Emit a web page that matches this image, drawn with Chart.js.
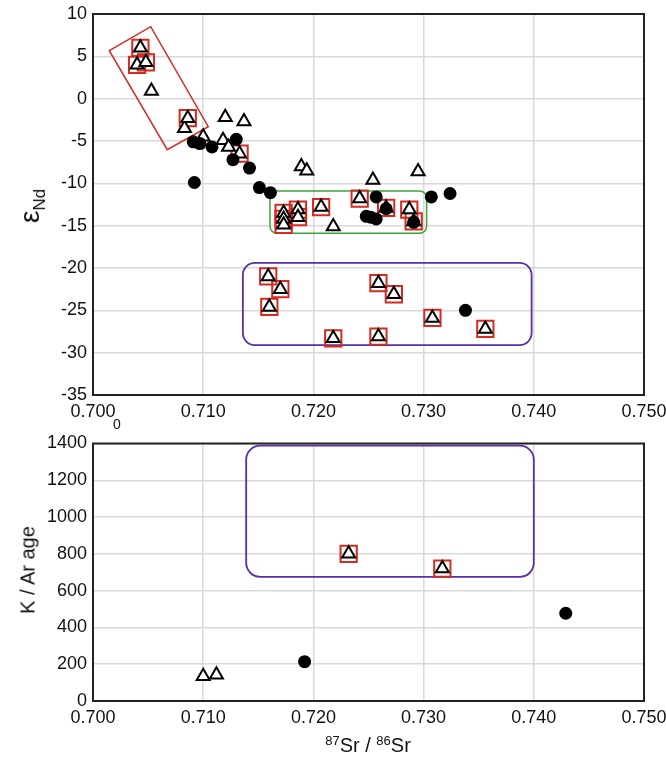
<!DOCTYPE html>
<html>
<head>
<meta charset="utf-8">
<script src="https://cdn.jsdelivr.net/npm/chart.js@4/dist/chart.umd.min.js"></script>
<style>
  html, body { margin: 0; padding: 0; background: #fff; }
  body { width: 666px; height: 759px; position: relative; overflow: hidden; font-family: "Liberation Sans", Arial, sans-serif; color: #111; }
  canvas { position: absolute; left: 0; }
  #c1 { top: 0; }
  #c2 { top: 430px; }
  .lbl { position: absolute; white-space: nowrap; color: #111; }
  .rot { transform: translate(-50%, -50%) rotate(-90deg); }
  sup { font-size: 13px; vertical-align: 7px; line-height: 0; }
</style>
</head>
<body>
<canvas id="c1" width="666" height="430"></canvas>
<canvas id="c2" width="666" height="329"></canvas>
<div class="lbl rot" style="left:30px; top:206px; font-size:28px;">ε<span style="font-size:17px; position:relative; top:6px;">Nd</span></div>
<div class="lbl rot" style="left:28px; top:570px; font-size:20px;">K / Ar age</div>
<div class="lbl" style="left:368px; top:745px; transform:translate(-50%,-50%); font-size:20px;"><sup>87</sup>Sr / <sup>86</sup>Sr</div>
<div class="lbl" style="left:117px; top:424px; transform:translate(-50%,-50%); font-size:14px;">0</div>
<script>
// ---------- data ----------
const xTicks = [0.700, 0.710, 0.720, 0.730, 0.740, 0.750];
const ndTicks = [10, 5, 0, -5, -10, -15, -20, -25, -30, -35];
const ageTicks = [0, 200, 400, 600, 800, 1000, 1200, 1400];

// top panel: 87Sr/86Sr vs eNd
const ndCircles = [
  [0.7091,-5.1],[0.7097,-5.3],[0.7108,-5.7],[0.7130,-4.8],[0.7127,-7.2],[0.7142,-8.2],
  [0.7092,-9.9],[0.7151,-10.5],[0.7161,-11.1],[0.7257,-11.6],[0.7307,-11.6],[0.7324,-11.2],
  [0.7248,-13.9],[0.7252,-14.0],[0.7257,-14.2],[0.7266,-13.0],[0.7291,-14.6],[0.7338,-25.0]
];
const ndTriangles = [
  [0.7053,0.9],[0.7083,-3.5],[0.7120,-2.2],[0.7137,-2.7],[0.7100,-4.5],[0.7118,-4.9],
  [0.7123,-5.7],[0.7189,-8.0],[0.7194,-8.5],[0.7254,-9.6],[0.7295,-8.6],[0.7218,-15.1]
];
const ndBoxed = [
  [0.7043,6.0],[0.7040,4.0],[0.7048,4.3],[0.7086,-2.3],[0.7133,-6.5],
  [0.7173,-13.5],[0.7173,-14.2],[0.7173,-14.9],[0.7186,-13.1],[0.7186,-14.0],[0.7207,-12.8],
  [0.7242,-11.8],[0.7266,-12.9],[0.7287,-13.1],[0.7291,-14.5],
  [0.7159,-21.0],[0.7170,-22.5],[0.7160,-24.6],[0.7218,-28.3],[0.7259,-21.8],[0.7273,-23.1],
  [0.7259,-28.1],[0.7308,-25.9],[0.7356,-27.2]
];
// bottom panel: 87Sr/86Sr vs K/Ar age
const ageCircles = [[0.7192,214],[0.7429,477]];
const ageTriangles = [[0.7100,134],[0.7112,143]];
const ageBoxed = [[0.7232,800],[0.7317,720]];

// outlined groups (data coordinates)
const redGroup = [[0.70148,5.67],[0.70524,8.50],[0.71046,-3.31],[0.70674,-6.02]];
const greenGroup = [0.71606,-10.91,0.73027,-15.90];
const purpleGroupTop = [0.7136,-19.4,0.7398,-29.1];
const purpleGroupBottom = [0.7139,1388,0.7400,675];

// ---------- drawing ----------
const pts = a => a.map(p => ({x: p[0], y: p[1]}));

function roundRect(ctx, x, y, w, h, r) {
  ctx.beginPath();
  ctx.moveTo(x + r, y);
  ctx.lineTo(x + w - r, y); ctx.arcTo(x + w, y, x + w, y + r, r);
  ctx.lineTo(x + w, y + h - r); ctx.arcTo(x + w, y + h, x + w - r, y + h, r);
  ctx.lineTo(x + r, y + h); ctx.arcTo(x, y + h, x, y + h - r, r);
  ctx.lineTo(x, y + r); ctx.arcTo(x, y, x + r, y, r);
  ctx.closePath();
}

function groupsPlugin(groups) {
  return {
    id: 'groups',
    beforeDatasetsDraw(chart) {
      const {ctx, scales: {x, y}} = chart;
      ctx.save();
      groups.forEach(g => {
        ctx.strokeStyle = g.color; ctx.lineWidth = g.width;
        if (g.poly) {
          ctx.beginPath();
          g.poly.forEach((p, i) => {
            const px = x.getPixelForValue(p[0]), py = y.getPixelForValue(p[1]);
            if (i === 0) ctx.moveTo(px, py); else ctx.lineTo(px, py);
          });
          ctx.closePath(); ctx.stroke();
        } else {
          const x1 = x.getPixelForValue(g.rect[0]), y1 = y.getPixelForValue(g.rect[1]);
          const x2 = x.getPixelForValue(g.rect[2]), y2 = y.getPixelForValue(g.rect[3]);
          roundRect(ctx, Math.min(x1,x2), Math.min(y1,y2), Math.abs(x2-x1), Math.abs(y2-y1), g.radius);
          ctx.stroke();
        }
      });
      ctx.restore();
    },
    afterDraw(chart) {
      const {ctx, chartArea: a} = chart;
      ctx.save();
      ctx.strokeStyle = '#222'; ctx.lineWidth = 2;
      ctx.strokeRect(a.left, a.top, a.right - a.left, a.bottom - a.top);
      ctx.restore();
    }
  };
}

function makeDatasets(circles, triangles, boxed) {
  return [
    {data: pts(circles), pointStyle: 'circle', pointRadius: 6.5, backgroundColor: '#000', borderColor: '#000', borderWidth: 0},
    {data: pts(triangles.concat(boxed)), pointStyle: 'triangle', pointRadius: 7.5, backgroundColor: '#fff', borderColor: '#000', borderWidth: 2},
    {data: pts(boxed), pointStyle: 'rect', pointRadius: 11.5, backgroundColor: 'rgba(0,0,0,0)', borderColor: '#d42a20', borderWidth: 2}
  ];
}

const tickFont = {family: '"Liberation Sans", Arial, sans-serif', size: 18};
function noPad(s) { s.paddingLeft = 0; s.paddingRight = 0; s.paddingTop = 0; s.paddingBottom = 0; }
function xScale(height) {
  return {
    type: 'linear', min: 0.7, max: 0.75,
    afterBuildTicks: s => { s.ticks = xTicks.map(v => ({value: v})); },
    ticks: {callback: v => Number(v).toFixed(3), font: tickFont, color: '#111', padding: 6, maxRotation: 0, autoSkip: false},
    grid: {color: '#d9d9d9', lineWidth: 1.5, drawTicks: false},
    border: {display: false},
    afterFit: s => { s.height = height; noPad(s); }
  };
}
function yScale(min, max, ticks) {
  return {
    type: 'linear', min: min, max: max,
    afterBuildTicks: s => { s.ticks = ticks.map(v => ({value: v})); },
    ticks: {callback: v => String(v), font: tickFont, color: '#111', padding: 6, autoSkip: false},
    grid: {color: '#d9d9d9', lineWidth: 1.5, drawTicks: false},
    border: {display: false},
    afterFit: s => { s.width = 93; noPad(s); }
  };
}
const baseOptions = {
  responsive: false, animation: false, devicePixelRatio: 1,
  plugins: {legend: {display: false}, tooltip: {enabled: false}}
};

new Chart(document.getElementById('c1'), {
  type: 'scatter',
  data: {datasets: makeDatasets(ndCircles, ndTriangles, ndBoxed)},
  options: Object.assign({}, baseOptions, {
    layout: {padding: {top: 14, right: 22, left: 0, bottom: 0}},
    scales: {x: xScale(35), y: yScale(-35, 10, ndTicks)}
  }),
  plugins: [groupsPlugin([
    {poly: redGroup, color: '#d42a20', width: 1.5},
    {rect: greenGroup, color: '#3aa43a', width: 1.5, radius: 7},
    {rect: purpleGroupTop, color: '#5a2ea6', width: 1.8, radius: 12}
  ])]
});

new Chart(document.getElementById('c2'), {
  type: 'scatter',
  data: {datasets: makeDatasets(ageCircles, ageTriangles, ageBoxed)},
  options: Object.assign({}, baseOptions, {
    layout: {padding: {top: 10, right: 22, left: 0, bottom: 0}},
    scales: {x: xScale(58), y: yScale(0, 1400, ageTicks)}
  }),
  plugins: [groupsPlugin([
    {rect: purpleGroupBottom, color: '#5a2ea6', width: 1.8, radius: 14}
  ])]
});
</script>
</body>
</html>
